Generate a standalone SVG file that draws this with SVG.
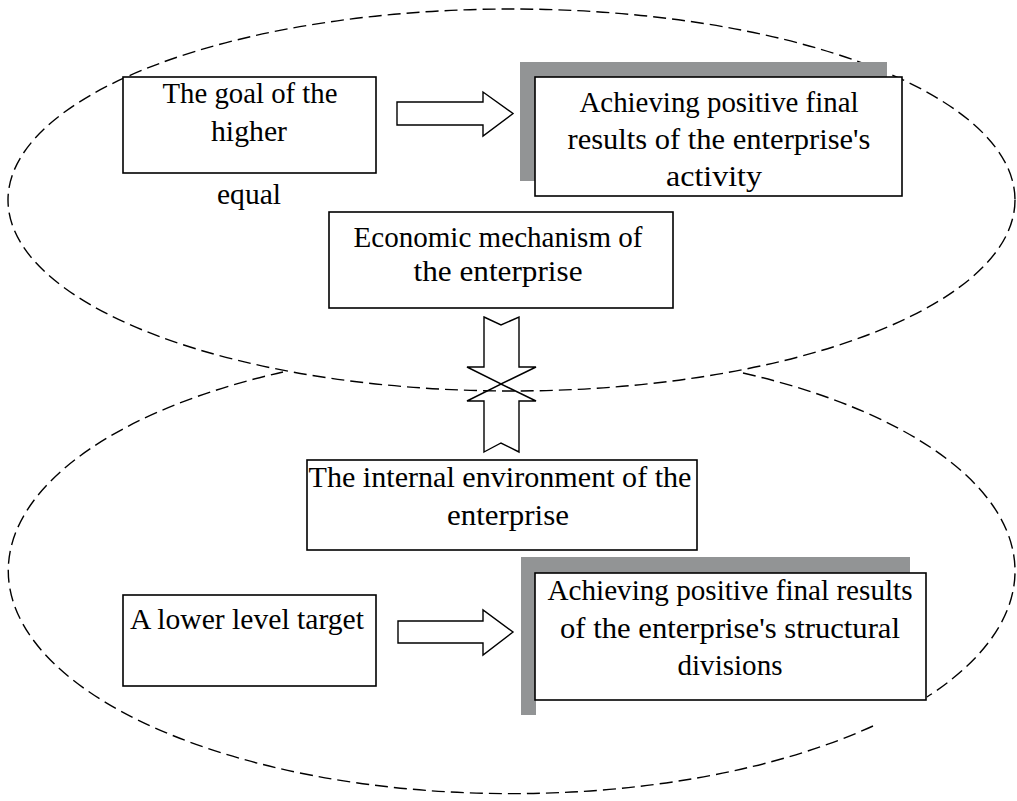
<svg xmlns="http://www.w3.org/2000/svg" width="1017" height="801" viewBox="0 0 1017 801">
<style>
.ell{fill:none;stroke:#000;stroke-width:1.4;stroke-dasharray:13 6}
.box{fill:#fff;stroke:#000;stroke-width:1.6}
.shadow{fill:#929495}
.arr{fill:none;stroke:#000;stroke-width:1.4;stroke-linejoin:miter}
text{font-family:"Liberation Serif","Times New Roman",serif;font-size:29px;fill:#000;text-anchor:middle}
</style>
<rect width="1017" height="801" fill="#fff"/>
<g id="outlines">
<ellipse class="ell" cx="511.5" cy="200" rx="503.5" ry="191"/>
<path class="ell" d="M 743 373 A 503.5 223 0 0 1 927 697"/>
<path class="ell" d="M 873 726 A 503.5 223 0 1 1 283 372"/>
</g>
<g id="node-goal-higher">
<rect class="box" x="123" y="77" width="253" height="96"/>
<text x="250" y="103" textLength="175" lengthAdjust="spacingAndGlyphs">The goal of the</text>
<text x="249" y="141" textLength="76" lengthAdjust="spacingAndGlyphs">higher</text>
</g>
<g id="label-equal">
<text x="249" y="204" textLength="64" lengthAdjust="spacingAndGlyphs">equal</text>
</g>
<g id="node-results-enterprise">
<rect class="shadow" x="520" y="62" width="367" height="16"/>
<rect class="shadow" x="520" y="62" width="16" height="119"/>
<rect class="box" x="535" y="77" width="367" height="119"/>
<text x="719" y="112" textLength="279" lengthAdjust="spacingAndGlyphs">Achieving positive final</text>
<text x="719" y="149" textLength="303" lengthAdjust="spacingAndGlyphs">results of the enterprise's</text>
<text x="714" y="186" textLength="96" lengthAdjust="spacingAndGlyphs">activity</text>
</g>
<g id="node-economic">
<rect class="box" x="329" y="212" width="344" height="96"/>
<text x="498" y="247" textLength="289" lengthAdjust="spacingAndGlyphs">Economic mechanism of</text>
<text x="498" y="281" textLength="169" lengthAdjust="spacingAndGlyphs">the enterprise</text>
</g>
<g id="node-internal">
<rect class="box" x="307" y="460" width="390" height="90"/>
<text x="500" y="487" textLength="383" lengthAdjust="spacingAndGlyphs">The internal environment of the</text>
<text x="508" y="525" textLength="122" lengthAdjust="spacingAndGlyphs">enterprise</text>
</g>
<g id="node-lower-target">
<rect class="box" x="123" y="595" width="253" height="91"/>
<text x="247" y="629" textLength="234" lengthAdjust="spacingAndGlyphs">A lower level target</text>
</g>
<g id="node-results-divisions">
<rect class="shadow" x="521" y="557" width="389" height="17"/>
<rect class="shadow" x="521" y="557" width="15" height="158"/>
<rect class="box" x="535" y="573" width="391" height="127"/>
<text x="730" y="600" textLength="365" lengthAdjust="spacingAndGlyphs">Achieving positive final results</text>
<text x="730" y="638" textLength="340" lengthAdjust="spacingAndGlyphs">of the enterprise's structural</text>
<text x="730" y="675" textLength="105" lengthAdjust="spacingAndGlyphs">divisions</text>
</g>
<g id="connectors">
<polygon class="arr" points="397,102 483,102 483,92 513,113.5 483,136 483,125 397,125"/>
<polygon class="arr" points="398,621 483,621 483,610 513,632 483,655 483,643 398,643"/>
<polygon class="arr" points="484,317 501,325 519,317 519,367 536,367 501,384 467,367 484,367"/>
<polygon class="arr" points="484,452 501,443 519,452 519,401 536,401 501,384 467,401 484,401"/>
</g>
</svg>
